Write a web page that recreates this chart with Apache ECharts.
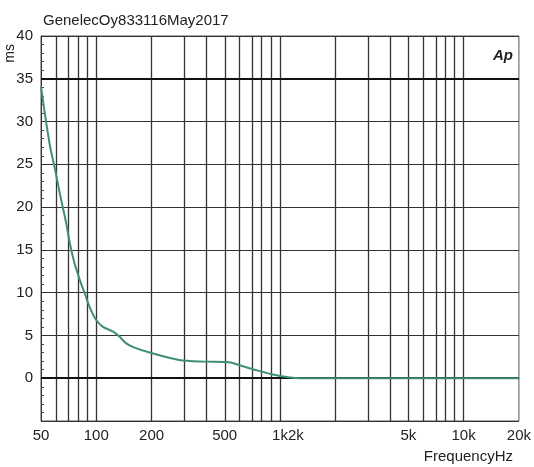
<!DOCTYPE html>
<html>
<head>
<meta charset="utf-8">
<script src="https://cdn.jsdelivr.net/npm/echarts@6/dist/echarts.min.js"></script>
<style>
html, body { margin: 0; padding: 0; background: #fff; }
#chart { width: 534px; height: 467px; }
</style>
</head>
<body>
<div id="chart"></div>
<script>
// 频率 (Hz)
var freqHz = [50, 52.5, 55.9, 59.5, 63.3, 68.9, 71.8, 76.2, 81.3, 86.6, 91.9, 99.9, 108.7, 123.6, 134, 145, 160, 195, 282, 394, 528, 596, 736, 901, 1111, 1300, 2000, 5000, 10000, 20000];
// 延迟 (ms)
var delayMs = [34.1, 30.9, 27.2, 24.5, 21.6, 17.9, 15.75, 13.4, 11.5, 9.9, 8.35, 6.8, 6.0, 5.45, 4.85, 4.1, 3.6, 3.0, 2.14, 1.94, 1.87, 1.55, 0.97, 0.47, 0.12, 0, 0, 0, 0, 0];
// X轴标签位置
var xLabelFreqs = [50, 100, 200, 500, 1000, 5000, 10000, 20000];
// 竖向网格线
var gridFreqs = [60, 70, 80, 90, 100, 200, 300, 400, 500, 600, 700, 800, 900, 1000, 2000, 3000, 4000, 5000, 6000, 7000, 8000, 9000, 10000];
// 加粗横线
var boldLines = [35, 0];

var lg = function(f) { return Math.log10(f); };
var labelText = function(f) {
	if (f >= 1000) return (f / 1000) + 'k';
	return String(f);
};

var chart = echarts.init(document.getElementById('chart'));
var font = 'Arial, "Liberation Sans", sans-serif';

var option = {
	animation: false,
	backgroundColor: '#fff',
	title: {
		text: 'GenelecOy833116May2017',
		left: 38,
		top: 8,
		textStyle: { fontFamily: font, fontSize: 15, fontWeight: 'normal', color: '#222' }
	},
	grid: {
		left: 41, right: 12, top: 36, bottom: 46,
		show: true, borderColor: '#555', borderWidth: 1, backgroundColor: '#fff'
	},
	xAxis: {
		type: 'value',
		min: lg(50),
		max: lg(20000),
		axisLine: { show: true, lineStyle: { color: '#333', width: 1 } },
		axisTick: { show: false },
		splitLine: { show: false },
		axisLabel: {
			customValues: xLabelFreqs.map(lg),
			showMinLabel: true,
			showMaxLabel: true,
			margin: 7,
			fontFamily: font,
			fontSize: 15,
			color: '#222',
			formatter: function(v) {
				var f = Math.round(Math.pow(10, v));
				if (f === 1000) return '{s|1k2k}';
				return labelText(f);
			},
			rich: {
				s: { fontFamily: font, fontSize: 15, color: '#222', padding: [0, 0, 0, 16] }
			}
		}
	},
	yAxis: {
		type: 'value',
		min: -5,
		max: 40,
		interval: 5,
		axisLine: { show: true, lineStyle: { color: '#333', width: 1 } },
		axisTick: { show: true, inside: true, length: 4, lineStyle: { color: '#333' } },
		minorTick: { show: true, splitNumber: 5, length: 3, lineStyle: { color: '#444' } },
		splitLine: { show: true, lineStyle: { color: '#333', width: 1.2 } },
		axisLabel: {
			margin: 8,
			fontFamily: font,
			fontSize: 15,
			color: '#222',
			formatter: function(v) { return v < 0 ? '' : String(v); }
		}
	},
	graphic: [{
		type: 'text',
		left: 3,
		top: 44,
		rotation: Math.PI / 2,
		style: { text: 'ms', font: '14px ' + font, fill: '#222' }
	}, {
		type: 'text',
		right: 21,
		top: 48,
		style: { text: 'Ap', font: 'italic bold 15px ' + font, fill: '#222' }
	}, {
		type: 'text',
		right: 21,
		top: 449,
		style: { text: 'FrequencyHz', font: '15px ' + font, fill: '#222' }
	}],
	series: [{
		// 网格线
		type: 'line',
		data: [],
		silent: true,
		z: 1,
		markLine: {
			silent: true,
			symbol: 'none',
			label: { show: false },
			data: gridFreqs.map(function(f) {
				return { xAxis: lg(f), lineStyle: { color: '#333', width: 1.3, type: 'solid' } };
			}).concat(boldLines.map(function(v) {
				return { yAxis: v, lineStyle: { color: '#111', width: 2.2, type: 'solid' } };
			}))
		}
	}, {
		type: 'line',
		z: 5,
		smooth: 0.3,
		showSymbol: false,
		lineStyle: { color: '#3f8f74', width: 2 },
		data: freqHz.map(function(f, i) { return [lg(f), delayMs[i]]; })
	}]
};
chart.setOption(option);
</script>
</body>
</html>
